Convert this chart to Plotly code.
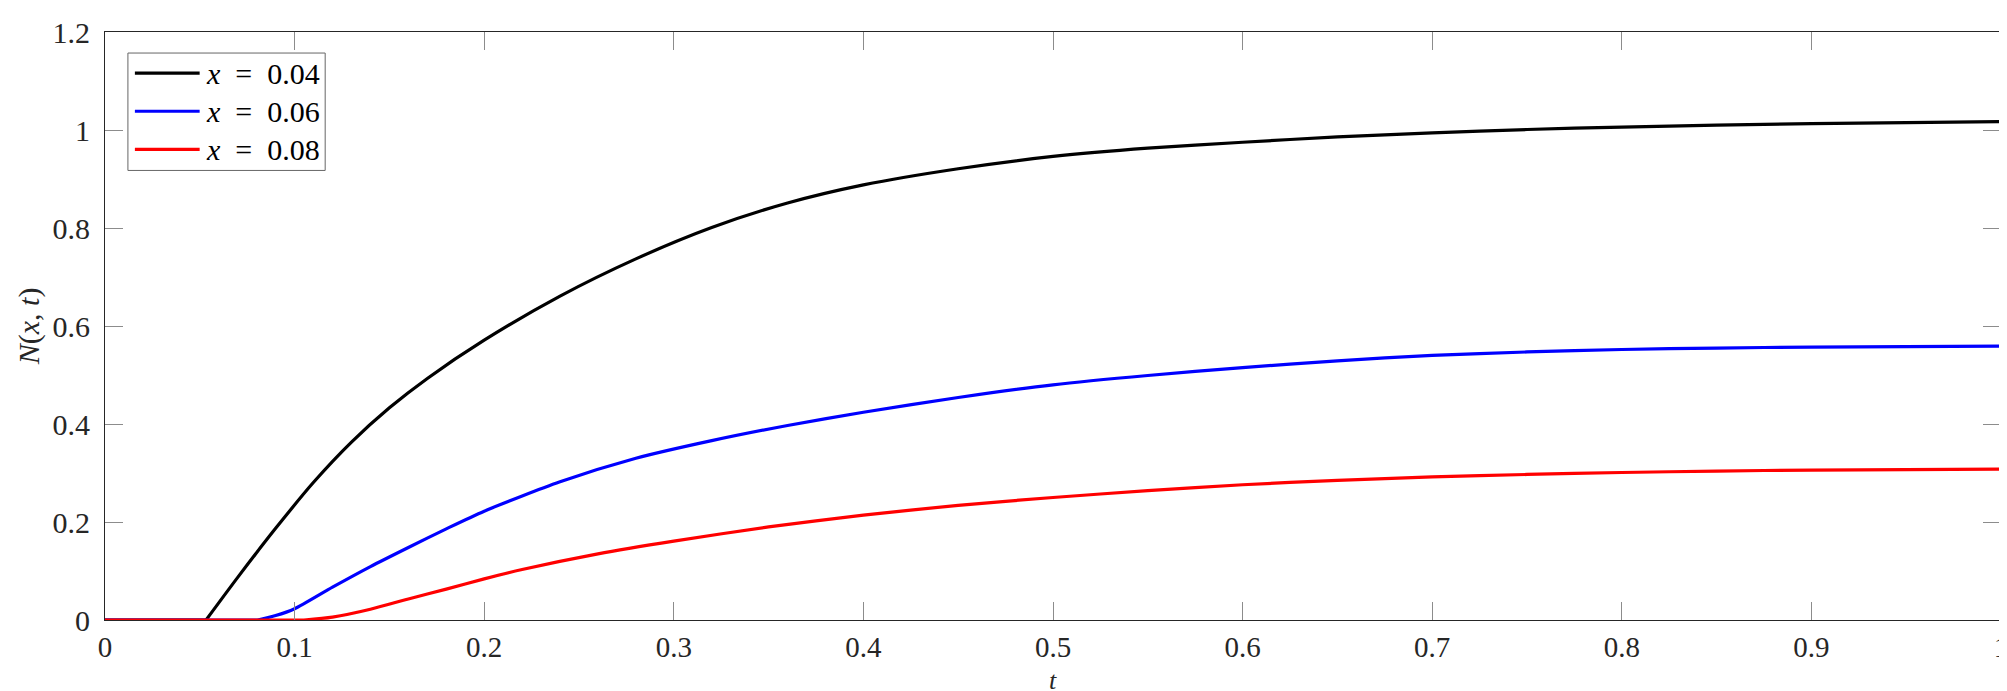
"""
N(x, t) 随时间变化曲线 (x = 0.04, 0.06, 0.08)
"""

import plotly.graph_objects as go

# ---- 数据 ----
t_black = [0, 0.0533, 0.07, 0.09, 0.11, 0.13, 0.15, 0.17, 0.20, 0.24, 0.28, 0.32,
           0.36, 0.40, 0.45, 0.50, 0.55, 0.60, 0.65, 0.70, 0.75, 0.80, 0.85,
           0.90, 0.95, 1.0]
n_black = [0, 0, 0.087, 0.187, 0.281, 0.363, 0.433, 0.493, 0.571, 0.661, 0.737,
           0.801, 0.851, 0.888, 0.921, 0.946, 0.963, 0.975, 0.986, 0.994, 1.001,
           1.006, 1.010, 1.013, 1.015, 1.017]

t_blue = [0, 0.0805, 0.09, 0.10, 0.12, 0.14, 0.16, 0.18, 0.20, 0.24, 0.28, 0.32,
          0.36, 0.40, 0.45, 0.50, 0.55, 0.60, 0.65, 0.70, 0.75, 0.80, 0.85,
          0.90, 0.95, 1.0]
n_blue = [0, 0, 0.009, 0.023, 0.067, 0.109, 0.148, 0.186, 0.222, 0.282, 0.330,
          0.366, 0.397, 0.424, 0.454, 0.480, 0.499, 0.515, 0.529, 0.540, 0.547,
          0.552, 0.555, 0.557, 0.558, 0.559]

t_red = [0, 0.105, 0.12, 0.14, 0.16, 0.18, 0.20, 0.22, 0.26, 0.30, 0.35, 0.40,
         0.45, 0.50, 0.55, 0.60, 0.65, 0.70, 0.75, 0.80, 0.85, 0.90, 0.95, 1.0]
n_red = [0, 0, 0.006, 0.022, 0.043, 0.063, 0.084, 0.103, 0.135, 0.161, 0.190,
         0.214, 0.234, 0.250, 0.264, 0.276, 0.285, 0.292, 0.297, 0.301, 0.304,
         0.306, 0.307, 0.308]

series_names = ["x = 0.04", "x = 0.06", "x = 0.08"]
series_colors = ["#000000", "#0000ff", "#ff0000"]

x_ticks = [0, 0.1, 0.2, 0.3, 0.4, 0.5, 0.6, 0.7, 0.8, 0.9, 1.0]
y_ticks = [0, 0.2, 0.4, 0.6, 0.8, 1.0, 1.2]

# ---- 画布尺寸 (像素) ----
W, H = 2007, 691
M_L, M_R, M_T, M_B = 97, 7, 11, 79
PW, PH = W - M_L - M_R, H - M_T - M_B

FONT = "Liberation Serif"


def px_x(p):
    return (p - M_L) / PW


def px_y(p):
    return 1 - (p - M_T) / PH


fig = go.Figure()

for t, n, color in zip([t_black, t_blue, t_red], [n_black, n_blue, n_red],
                       series_colors):
    # 起始段为零 (直线), 之后为光滑曲线
    fig.add_trace(go.Scatter(
        x=t[:2], y=n[:2], mode="lines",
        line=dict(color=color, width=3.2), showlegend=False,
    ))
    fig.add_trace(go.Scatter(
        x=t[1:], y=n[1:], mode="lines",
        line=dict(color=color, width=3.2, shape="spline", smoothing=0.7),
        showlegend=False,
    ))

# 手绘图例 (MATLAB 风格)
fig.add_shape(type="rect", xref="paper", yref="paper",
              x0=px_x(120), x1=px_x(318), y0=px_y(152.5), y1=px_y(32.5),
              line=dict(color="#666666", width=1), fillcolor="white")
row_y = [53, 92, 131]
for name, color, ry in zip(series_names, series_colors, row_y):
    fig.add_shape(type="line", xref="paper", yref="paper",
                  x0=px_x(127), x1=px_x(192), y0=px_y(ry), y1=px_y(ry),
                  line=dict(color=color, width=3.2))
    var, val = name.split(" = ")
    fig.add_annotation(
        xref="paper", yref="paper", x=px_x(196), y=px_y(ry),
        xanchor="left", yanchor="middle", showarrow=False,
        text=f"<i>{var}</i>&nbsp;&nbsp;=&nbsp;&nbsp;{val}",
        font=dict(family=FONT, size=30, color="black"),
    )

# 坐标轴标题
fig.add_annotation(
    xref="paper", yref="paper", x=px_x(1048), y=px_y(691),
    xanchor="center", yanchor="bottom", showarrow=False,
    text="<i>t</i>", font=dict(family=FONT, size=26, color="#262626"),
)
fig.add_annotation(
    xref="paper", yref="paper", x=px_x(21), y=0.5,
    xanchor="center", yanchor="middle", showarrow=False, textangle=-90,
    text="<i>N</i>(<i>x</i>, <i>t</i>)",
    font=dict(family=FONT, size=30, color="#262626"),
)

fig.update_layout(
    width=W, height=H,
    margin=dict(l=M_L, r=M_R, t=M_T, b=M_B),
    plot_bgcolor="white",
    paper_bgcolor="white",
    font=dict(family=FONT, size=30, color="#262626"),
    showlegend=False,
)

fig.update_xaxes(
    range=[0, 1], tickvals=x_ticks,
    ticktext=[f"{v:g}" for v in x_ticks],
    ticks="inside", ticklen=18, tickcolor="#8c8c8c", tickwidth=1,
    showline=True, linecolor="#262626", linewidth=1, mirror="ticks",
    showgrid=False, zeroline=False, tickfont=dict(size=29),
    ticklabelstandoff=1, ticklabeloverflow="allow",
)
fig.update_yaxes(
    range=[0, 1.2], tickvals=y_ticks,
    ticktext=[f"{v:g}" for v in y_ticks],
    ticks="inside", ticklen=18, tickcolor="#8c8c8c", tickwidth=1,
    showline=True, linecolor="#262626", linewidth=1, mirror="ticks",
    showgrid=False, zeroline=False,
    ticklabelstandoff=8, ticklabeloverflow="allow",
)

fig.write_html("out.html")
